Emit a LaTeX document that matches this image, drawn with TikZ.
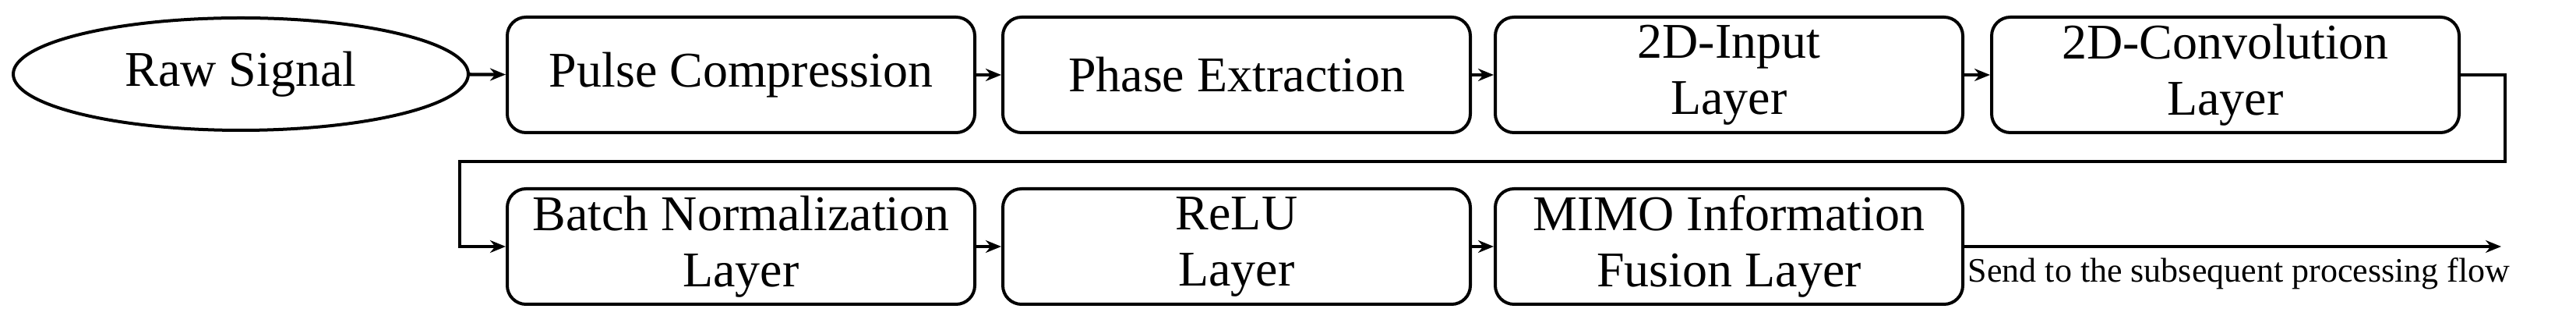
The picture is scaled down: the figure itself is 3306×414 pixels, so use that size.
\documentclass[tikz,border=0pt]{standalone}
\usepackage{fontspec}
\setmainfont{Liberation Serif}
\usetikzlibrary{shapes.geometric,arrows.meta}
\begin{document}
\begin{tikzpicture}[x=0.25pt,y=-0.25pt,
  box/.style={draw,line width=1pt,rounded corners=6pt,minimum width=150pt,minimum height=37pt,inner sep=0pt,align=center,font=\fontsize{16}{18}\selectfont},
  conn/.style={line width=1.1pt,-{Stealth[length=5pt,width=4pt]}}]
\useasboundingbox (0,0) rectangle (3306,414);
\node[draw,line width=1pt,ellipse,minimum width=146pt,minimum height=36pt,inner sep=0pt,font=\fontsize{16}{18}\selectfont] (raw) at (309,95) {Raw Signal};
\node[box] (pc) at (951,96) {Pulse Compression};
\node[box] (pe) at (1587,96) {Phase Extraction};
\node[box] (in) at (2219,96) {2D-Input\\Layer};
\node[box] (cv) at (2856,96) {2D-Convolution\\Layer};
\node[box] (bn) at (951,316) {Batch Normalization\\Layer};
\node[box] (re) at (1587,316) {ReLU\\Layer};
\node[box] (mf) at (2219,316) {MIMO Information\\Fusion Layer};
\coordinate (out) at (3210,316);
\node[anchor=north west,inner sep=0pt,font=\fontsize{11}{13}\selectfont] (lab) at (2525,330) {Send to the subsequent processing flow};
\draw[conn] (raw) -- (pc);
\draw[conn] (pc) -- (pe);
\draw[conn] (pe) -- (in);
\draw[conn] (in) -- (cv);
\draw[conn] (cv.east) -- ++(57,0) |- (590,207) |- (bn.west);
\draw[conn] (bn) -- (re);
\draw[conn] (re) -- (mf);
\draw[conn] (mf.east) -- (out);
\end{tikzpicture}
\end{document}
